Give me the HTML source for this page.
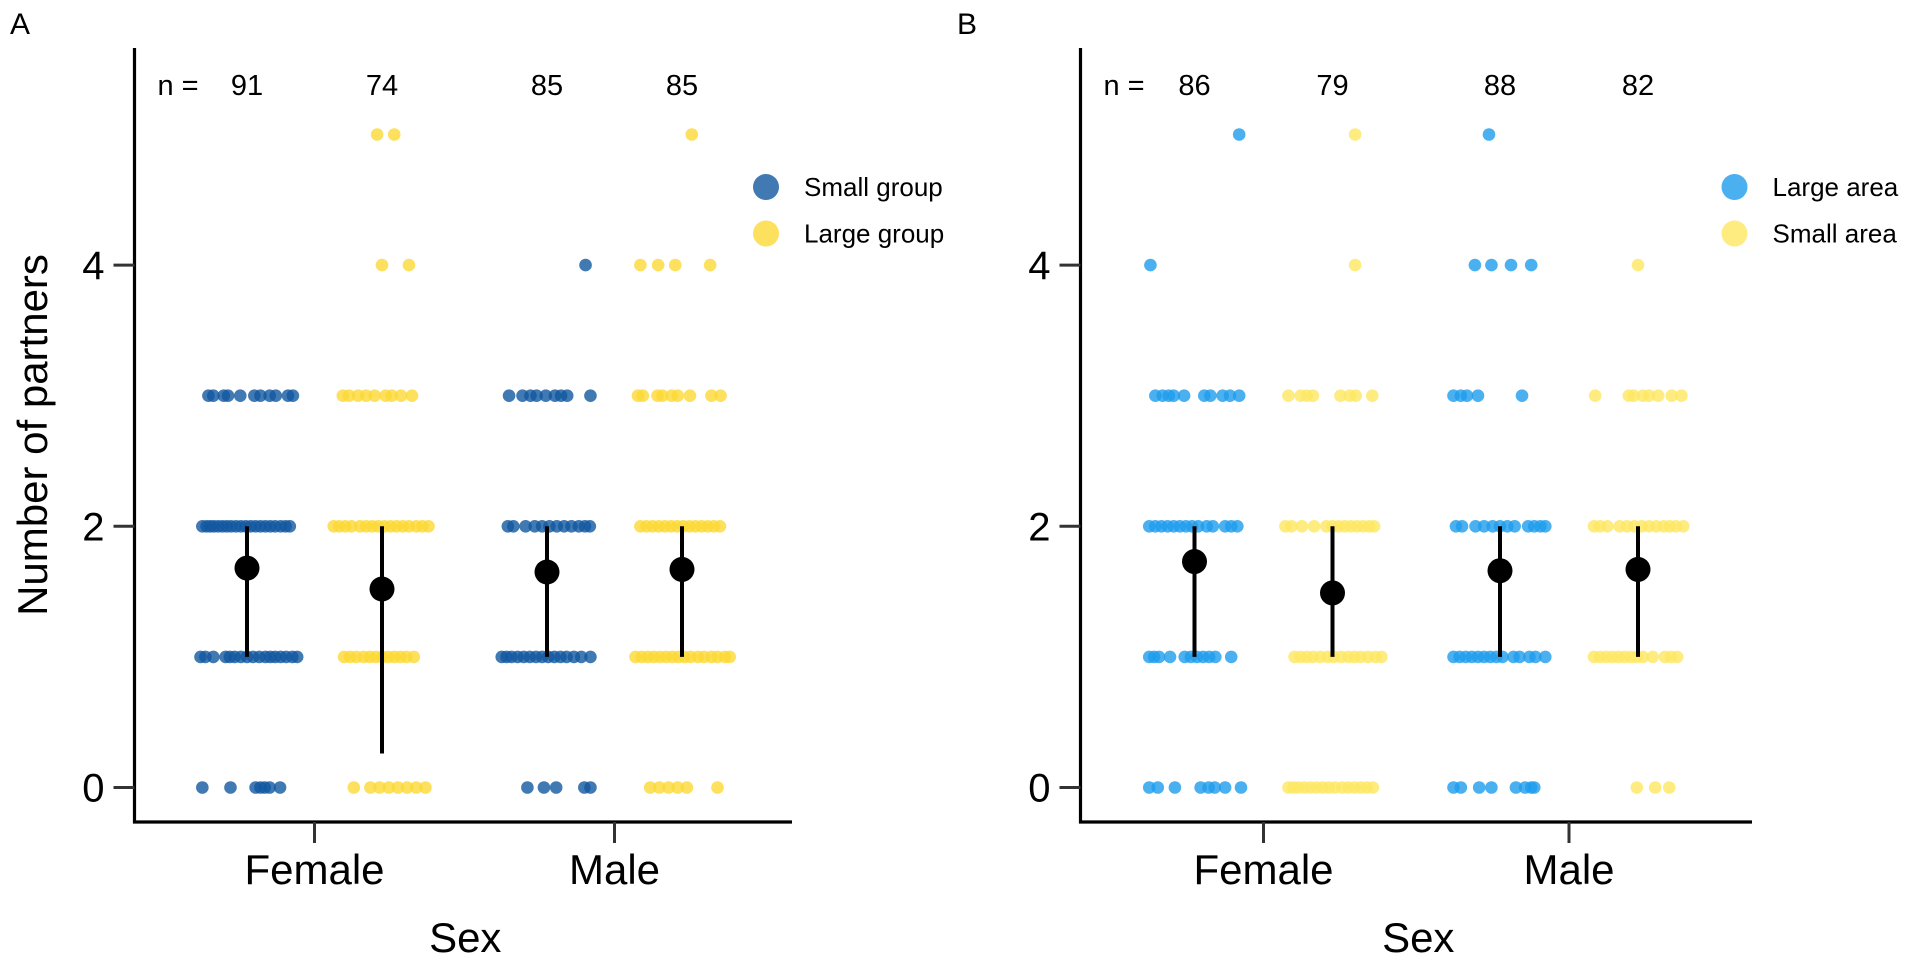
<!DOCTYPE html>
<html><head><meta charset="utf-8"><style>
html,body{margin:0;padding:0;background:#fff;}
svg{display:block;font-family:"Liberation Sans",Arial,sans-serif;}
</style></head><body>
<svg id="c" width="1920" height="960" viewBox="0 0 1920 960" xmlns="http://www.w3.org/2000/svg"></svg>
<script>
// ---------- data ----------
const categories = ["Female", "Male"];
const yTicks = [0, 2, 4];
// Panel A
const aGroups = ["Small group", "Large group"];
const aN = [91, 74, 85, 85];
const aMeans = [1.68, 1.52, 1.65, 1.67];
const aLower = [1, 0.26, 1, 1];
const aUpper = [2, 2, 2, 2];
// points: [jitter (relative units), value]; per subgroup order F-small, F-large, M-small, M-large
const aPts0 = [[-63,3],[-55,3],[-38,3],[-31,3],[-11,3],[12,3],[22,3],[37,3],[47,3],[67,3],[75,3],
 [-73,2],[-66,2],[-60,2],[-54,2],[-47,2],[-40,2],[-33,2],[-26,2],[-18,2],[-10,2],[-2,2],[6,2],[14,2],[22,2],[30,2],[38,2],[46,2],[55,2],[63,2],[70,2],
 [-76,1],[-68,1],[-55,1],[-35,1],[-28,1],[-20,1],[-10,1],[0,1],[10,1],[20,1],[30,1],[38,1],[46,1],[55,1],[64,1],[74,1],[82,1],
 [-73,0],[-27,0],[14,0],[22,0],[29,0],[37,0],[54,0]];
const aPts1 = [[-8,5],[20,5],[0,4],[44,4],
 [-64,3],[-54,3],[-39,3],[-26,3],[-12,3],[6,3],[16,3],[31,3],[49,3],
 [-79,2],[-70,2],[-60,2],[-50,2],[-36,2],[-26,2],[-16,2],[-6,2],[4,2],[14,2],[24,2],[34,2],[44,2],[56,2],[66,2],[76,2],
 [-62,1],[-52,1],[-42,1],[-30,1],[-20,1],[-10,1],[0,1],[10,1],[20,1],[30,1],[40,1],[52,1],
 [-46,0],[-19,0],[-4,0],[11,0],[26,0],[41,0],[56,0],[71,0]];
const aPts2 = [[63,4],
 [-62,3],[-40,3],[-27,3],[-17,3],[-2,3],[13,3],[23,3],[33,3],[71,3],
 [-64,2],[-55,2],[-35,2],[-20,2],[-8,2],[4,2],[16,2],[28,2],[40,2],[52,2],[62,2],[70,2],
 [-74,1],[-66,1],[-58,1],[-48,1],[-38,1],[-28,1],[-18,1],[-8,1],[2,1],[12,1],[22,1],[32,1],[44,1],[56,1],[71,1],
 [-32,0],[-5,0],[15,0],[61,0],[71,0]];
const aPts3 = [[16,5],[-68,4],[-39,4],[-11,4],[46,4],
 [-72,3],[-64,3],[-40,3],[-32,3],[-17,3],[-7,3],[13,3],[48,3],[63,3],
 [-68,2],[-58,2],[-48,2],[-38,2],[-28,2],[-18,2],[-8,2],[2,2],[12,2],[22,2],[32,2],[42,2],[52,2],[62,2],
 [-76,1],[-66,1],[-56,1],[-46,1],[-36,1],[-26,1],[-16,1],[-6,1],[4,1],[14,1],[26,1],[36,1],[48,1],[58,1],[70,1],[78,1],
 [-52,0],[-37,0],[-22,0],[-7,0],[8,0],[58,0]];
// Panel B
const bGroups = ["Large area", "Small area"];
const bN = [86, 79, 88, 82];
const bMeans = [1.73, 1.49, 1.66, 1.67];
const bLower = [1, 1, 1, 1];
const bUpper = [2, 2, 2, 2];
const bPts0 = [[73,5],[-72,4],
 [-64,3],[-52,3],[-42,3],[-34,3],[-17,3],[16,3],[26,3],[46,3],[58,3],[73,3],
 [-74,2],[-64,2],[-54,2],[-44,2],[-34,2],[-24,2],[-14,2],[-4,2],[6,2],[20,2],[30,2],[50,2],[60,2],[70,2],
 [-74,1],[-66,1],[-58,1],[-40,1],[-16,1],[-6,1],[4,1],[14,1],[24,1],[34,1],[60,1],
 [-74,0],[-60,0],[-32,0],[10,0],[23,0],[33,0],[50,0],[76,0]];
const bPts1 = [[37,5],[37,4],
 [-72,3],[-52,3],[-42,3],[-32,3],[13,3],[28,3],[38,3],[65,3],
 [-77,2],[-67,2],[-50,2],[-30,2],[-10,2],[0,2],[10,2],[20,2],[30,2],[40,2],[50,2],[60,2],[68,2],
 [-62,1],[-52,1],[-42,1],[-32,1],[-20,1],[-8,1],[2,1],[14,1],[26,1],[36,1],[46,1],[58,1],[70,1],[80,1],
 [-72,0],[-64,0],[-56,0],[-46,0],[-36,0],[-26,0],[-16,0],[-6,0],[4,0],[16,0],[26,0],[36,0],[46,0],[56,0],[66,0]];
const bPts2 = [[-18,5],[-41,4],[-14,4],[18,4],[51,4],
 [-76,3],[-64,3],[-54,3],[-36,3],[36,3],
 [-72,2],[-62,2],[-40,2],[-26,2],[-12,2],[0,2],[12,2],[24,2],[46,2],[56,2],[66,2],[74,2],
 [-76,1],[-66,1],[-56,1],[-46,1],[-36,1],[-26,1],[-16,1],[-6,1],[4,1],[22,1],[32,1],[48,1],[58,1],[74,1],
 [-76,0],[-64,0],[-34,0],[-14,0],[26,0],[41,0],[51,0],[56,0]];
const bPts3 = [[0,4],
 [-70,3],[-15,3],[-7,3],[8,3],[18,3],[33,3],[55,3],[71,3],
 [-72,2],[-62,2],[-50,2],[-30,2],[-18,2],[-6,2],[6,2],[18,2],[30,2],[42,2],[52,2],[62,2],[74,2],
 [-72,1],[-62,1],[-52,1],[-42,1],[-32,1],[-22,1],[-12,1],[-2,1],[8,1],[24,1],[44,1],[54,1],[64,1],
 [-2,0],[28,0],[51,0]];

// ---------- drawing ----------
const NS = "http://www.w3.org/2000/svg";
const svg = document.getElementById("c");
function mk(tag, attrs, parent) {
  const e = document.createElementNS(NS, tag);
  for (const k in attrs) e.setAttribute(k, attrs[k]);
  (parent || svg).appendChild(e);
  return e;
}
function panel(cfg) {
  const g = mk("g", {});
  
  
  const yS = v => 787.5 - v * 130.6;
  const catX = i => cfg.cat0 + i * cfg.catStep;
  const grpX = (ci, gi) => catX(ci) + (gi === 0 ? -cfg.dodge : cfg.dodge);
  const J = 0.612;
  const L = mk("text", {x: cfg.letterX, y: 34, "font-size": 30}, g);
  L.textContent = cfg.letter;
  
  
  const pts = cfg.pts;
  for (let k = 0; k < 4; k++) {
    const ci = Math.floor(k / 2), gi = k % 2;
    const cx = grpX(ci, gi);
    pts[k].forEach(p => {
      const c = mk("circle", {cx: cx + p[0] * J, cy: yS(p[1]), r: 6.3, fill: cfg.colors[gi], "fill-opacity": 0.8}, g);
      
      
    });
  }
  for (let k = 0; k < 4; k++) {
    const ci = Math.floor(k / 2), gi = k % 2;
    const cx = grpX(ci, gi);
    const l = mk("line", {x1: cx, x2: cx, y1: yS(cfg.lower[k]), y2: yS(cfg.upper[k]), stroke: "#000", "stroke-width": 4}, g);
    
    
    const m = mk("circle", {cx: cx, cy: yS(cfg.means[k]), r: 12.5, fill: "#000"}, g);
    
    
    const t = mk("text", {x: cx, y: 95, "font-size": 29, "text-anchor": "middle"}, g);
    t.textContent = cfg.n[k];
    
    
  }
  const nl = mk("text", {x: cfg.axisX + 23, y: 95, "font-size": 29}, g);
  nl.textContent = "n =";
  
  
  const ax = mk("path", {d: `M${cfg.axisX} 48 V822 H${cfg.axisEnd}`, stroke: "#000", "stroke-width": 3.2, fill: "none"}, g);
  
  
  yTicks.forEach(v => {
    const tk = mk("line", {x1: cfg.axisX - 21, x2: cfg.axisX, y1: yS(v), y2: yS(v), stroke: "#333", "stroke-width": 3}, g);
    
    
    const tl = mk("text", {x: cfg.axisX - 30, y: yS(v) + 14, "font-size": 40, "text-anchor": "end"}, g);
    tl.textContent = v;
    
    
  });
  categories.forEach((c, i) => {
    const tk = mk("line", {x1: catX(i), x2: catX(i), y1: 822, y2: 843, stroke: "#333", "stroke-width": 3}, g);
    
    
    const tl = mk("text", {x: catX(i), y: 884, "font-size": 42, "text-anchor": "middle"}, g);
    tl.textContent = c;
    
    
  });
  const xt = mk("text", {x: (cfg.axisX + cfg.axisEnd) / 2 + 2, y: 952, "font-size": 42, "text-anchor": "middle"}, g);
  xt.textContent = "Sex";
  
  
  cfg.groups.forEach((name, gi) => {
    const y = 187 + gi * 46.5;
    const d = mk("circle", {cx: cfg.legX, cy: y, r: 13, fill: cfg.colors[gi], "fill-opacity": 0.8}, g);
    
    
    const t = mk("text", {x: cfg.legX + 38, y: y + 9, "font-size": 26}, g);
    t.textContent = name;
    
    
  });
}
panel({name: "panel-a", letter: "A", letterX: 10, axisX: 134.5, axisEnd: 792, cat0: 314.5, catStep: 300, dodge: 67.5,
  colors: ["#1257a0", "#fdd835"], groups: aGroups, n: aN, means: aMeans, lower: aLower, upper: aUpper,
  pts: [aPts0, aPts1, aPts2, aPts3], legX: 766});
panel({name: "panel-b", letter: "B", letterX: 957, axisX: 1080.5, axisEnd: 1752, cat0: 1263.5, catStep: 305.5, dodge: 69,
  colors: ["#1e9cec", "#fee761"], groups: bGroups, n: bN, means: bMeans, lower: bLower, upper: bUpper,
  pts: [bPts0, bPts1, bPts2, bPts3], legX: 1734.5});
const yt = mk("text", {x: 0, y: 0, "font-size": 42, "text-anchor": "middle", transform: "translate(47,435) rotate(-90)"});
yt.textContent = "Number of partners";


</script>
</body></html>
